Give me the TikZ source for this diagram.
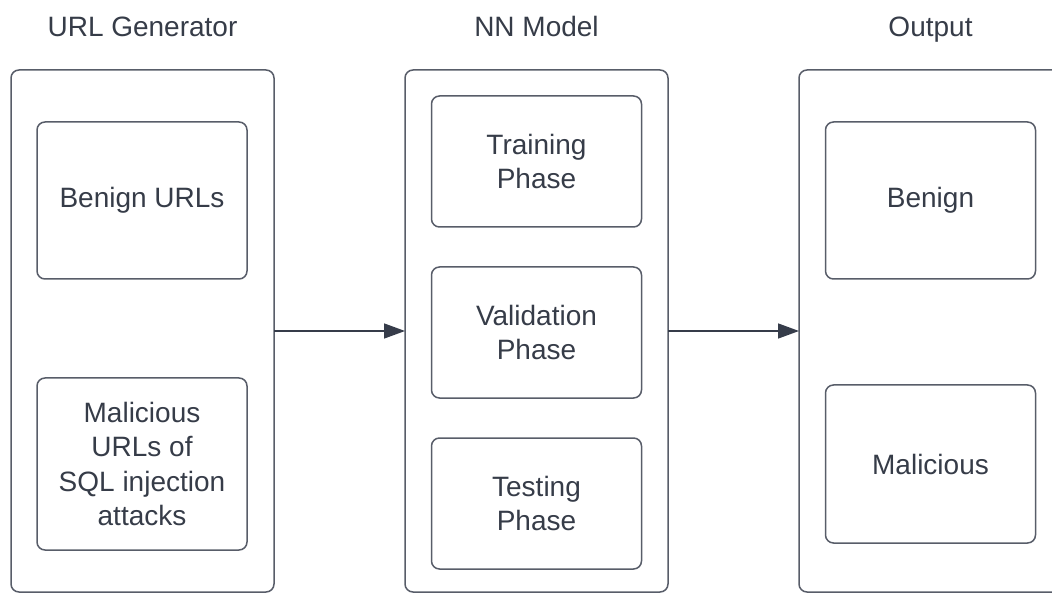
\documentclass[tikz,border=0pt]{standalone}
\usepackage{fontspec}
\setmainfont{Liberation Sans}
\usetikzlibrary{arrows.meta}
\definecolor{txtc}{HTML}{363C48}
\definecolor{linec}{HTML}{585D69}
\definecolor{arrc}{HTML}{363C4A}
\tikzset{
  outerbox/.style={draw=linec, line width=1.5pt, rounded corners=8pt, minimum width=263pt, minimum height=522pt, inner sep=0pt, outer sep=0pt},
  innerbox/.style={draw=linec, line width=1.5pt, rounded corners=8pt, minimum width=210pt, inner sep=0pt, outer sep=0pt, align=center, text=txtc, font=\fontsize{28}{34.5}\selectfont},
  title/.style={anchor=base, text=txtc, font=\fontsize{28}{34.5}\selectfont, inner sep=0pt},
  arr/.style={draw=arrc, line width=1.5pt, -{Triangle[length=21pt,width=15pt]}}
}
\begin{document}
\begin{tikzpicture}[x=1pt,y=-1pt]
\useasboundingbox (0,0) rectangle (1052,593);
% outer boxes
\node[outerbox] (gen) at (142.5,331) {};
\node[outerbox] (nn) at (536.5,331) {};
\node[outerbox] (out) at (930.5,331) {};
% titles
\node[title] (tgen) at (142.5,37) {URL Generator};
\node[title] (tnn) at (536.5,37) {NN Model};
\node[title] (tout) at (930.5,37) {Output};
% inner boxes left
\node[innerbox, minimum height=157pt] (benurl) at (142,200.5) {Benign URLs};
\node[innerbox, minimum height=172pt] (malurl) at (142,464) {Malicious\\URLs of\\SQL injection\\attacks};
% inner boxes middle
\node[innerbox, minimum height=131pt] (train) at (536.5,161.5) {Training\\Phase};
\node[innerbox, minimum height=131pt] (valid) at (536.5,332.5) {Validation\\Phase};
\node[innerbox, minimum height=131pt] (test) at (536.5,503.5) {Testing\\Phase};
% inner boxes right
\node[innerbox, minimum height=157pt] (benign) at (930.5,200.5) {Benign};
\node[innerbox, minimum height=158pt] (malic) at (930.5,464) {Malicious};
% arrows
\draw[arr] (gen.east) -- (nn.west);
\draw[arr] (nn.east) -- (out.west);
\end{tikzpicture}
\end{document}
